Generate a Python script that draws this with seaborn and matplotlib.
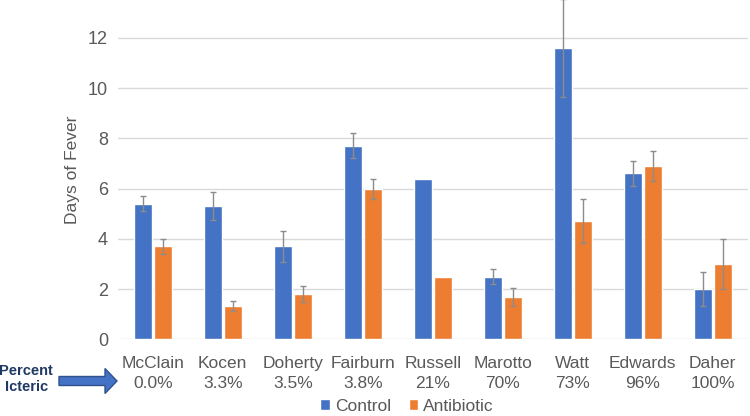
import matplotlib
matplotlib.use("Agg")
import matplotlib.pyplot as plt
import seaborn as sns
import pandas as pd
import numpy as np
from matplotlib.patches import FancyArrow, Patch

studies = ["McClain", "Kocen", "Doherty", "Fairburn", "Russell", "Marotto", "Watt", "Edwards", "Daher"]
pct_icteric = ["0.0%", "3.3%", "3.5%", "3.8%", "21%", "70%", "73%", "96%", "100%"]
control = [5.4, 5.3, 3.7, 7.7, 6.4, 2.5, 11.6, 6.6, 2.0]
antibiotic = [3.7, 1.33, 1.8, 6.0, 2.5, 1.7, 4.7, 6.9, 3.0]
control_err = [0.3, 0.55, 0.6, 0.5, 0.0, 0.3, 1.95, 0.5, 0.68]
antibiotic_err = [0.3, 0.18, 0.33, 0.4, 0.0, 0.36, 0.88, 0.6, 1.0]
series = ["Control", "Antibiotic"]
colors = ["#4472C4", "#ED7D31"]

sns.set_theme(style="white")
plt.rcParams['font.family'] = ['Liberation Sans', 'DejaVu Sans']

df = pd.DataFrame({
    "Study": studies * 2,
    "Group": ["Control"] * len(studies) + ["Antibiotic"] * len(studies),
    "Days": control + antibiotic,
})

fig = plt.figure(figsize=(7.5, 4.16), dpi=100)
ax = fig.add_axes([0.157, 0.184, 0.840, 0.816])

sns.barplot(data=df, x="Study", y="Days", hue="Group", hue_order=series,
            palette=colors, width=0.58, gap=0.12, errorbar=None, ax=ax,
            saturation=1, legend=False)

errs = {"Control": control_err, "Antibiotic": antibiotic_err}
vals = {"Control": control, "Antibiotic": antibiotic}
for container, name in zip(ax.containers, series):
    xs = np.array([p.get_x() + p.get_width() / 2 for p in container.patches])
    e = np.array(errs[name])
    v = np.array(vals[name])
    mask = e > 0
    ax.errorbar(xs[mask], v[mask], yerr=e[mask], fmt="none",
                ecolor="#8c8c8c", elinewidth=1, capsize=2.5, capthick=1, zorder=3)

ax.set_ylim(0, 13.5)
ax.set_xlim(-0.5, len(studies) - 0.5)
ax.set_yticks([0, 2, 4, 6, 8, 10, 12])
ax.yaxis.grid(True, color="#d9d9d9", linewidth=1)
ax.set_axisbelow(True)
for s in ax.spines.values():
    s.set_visible(False)
ax.tick_params(axis="y", length=0, labelsize=13, labelcolor="#595959", pad=7)
ax.tick_params(axis="x", length=0, labelsize=12.5, labelcolor="#595959", pad=12)
ax.set_xticks(range(len(studies)))
ax.set_xticklabels([f"{s}\n{p}" for s, p in zip(studies, pct_icteric)], linespacing=1.4)
ax.set_xlabel("")
ax.set_ylabel("Days of Fever", fontsize=12.5, color="#595959", labelpad=6)

handles = [Patch(facecolor=c, label=n) for c, n in zip(colors, series)]
fig.legend(handles=handles, loc="center", bbox_to_anchor=(0.543, 0.024), ncol=2,
           frameon=False, fontsize=12.5, handlelength=0.55, handleheight=0.55,
           handletextpad=0.3, columnspacing=1.0, labelcolor="#595959",
           borderpad=0, borderaxespad=0)

fig.text(0.035, 1 - 371 / 416, "Percent", ha="center", va="center", fontsize=10.5,
         fontweight="bold", color="#1F3864")
fig.text(0.035, 1 - 387 / 416, "Icteric", ha="center", va="center", fontsize=10.5,
         fontweight="bold", color="#1F3864")
arrow = FancyArrow(59 / 750, 1 - 381 / 416, (117 - 59) / 750, 0,
                   width=9 / 416, head_width=25 / 416, head_length=12 / 750,
                   length_includes_head=True, transform=fig.transFigure,
                   facecolor="#4472C4", edgecolor="#2F528F", linewidth=1)
fig.patches.append(arrow)

fig.savefig("out.png", dpi=100)
